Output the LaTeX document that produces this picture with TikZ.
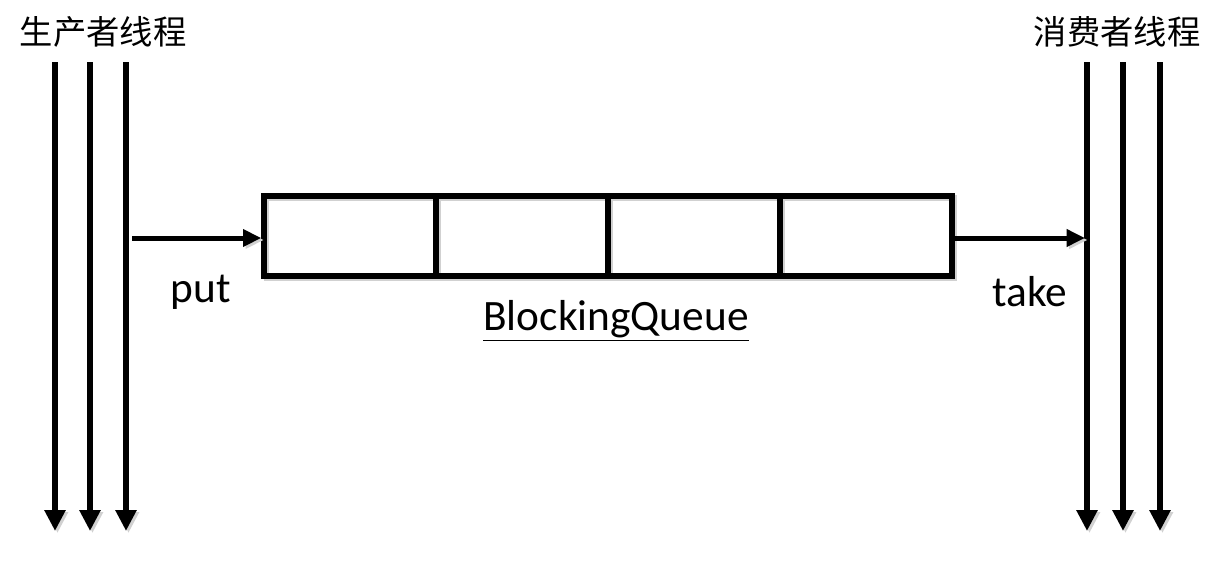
\documentclass[tikz,border=0pt]{standalone}
\usepackage{fontspec}
\setmainfont{Carlito}
\newfontfamily\cjk{Noto Sans CJK SC}
\usetikzlibrary{arrows.meta,chains,positioning}
\tikzset{
  cell/.style={ % one slot of the queue
    draw, rectangle, line width=3.2pt,
    minimum width=103.2pt, minimum height=48pt,
    inner sep=0pt, on chain
  },
  thread/.style={ % a thread line going down
    line width=3.3pt,
    -{Triangle[length=12.5pt,width=12pt]}
  },
  call/.style={ % put / take arrow
    line width=3pt,
    -{Triangle[length=11pt,width=10pt]}
  },
  shade/.style={ % faint shadow behind a line
    preaction={draw=black!18, transform canvas={shift={(1.5pt,-1.2pt)}}}
  },
  lbl/.style={font=\fontsize{26}{30}\selectfont, inner sep=0pt},
  title/.style={font=\cjk\fontsize{20}{24}\selectfont, inner sep=0pt}
}
\begin{document}
\begin{tikzpicture}[x=0.6pt, y=-0.6pt]
  \useasboundingbox (0,0) rectangle (1222,561);

  % queue slots
  \begin{scope}[start chain=going right, node distance=-3.2pt]
    \node[cell, shade] (q1) at (350,236) {};
    \node[cell, shade] (q2) {};
    \node[cell, shade] (q3) {};
    \node[cell, shade] (q4) {};
  \end{scope}
  \node[lbl] (qname) at (616,321) {\underline{BlockingQueue}};

  % thread titles
  \node[title] (prod) at (103,32) {生产者线程};
  \node[title] (cons) at (1117,32) {消费者线程};

  % producer and consumer threads
  \foreach \n/\x in {p1/55, p2/90, p3/126, c1/1087, c2/1123, c3/1160} {
    \coordinate (\n top) at (\x,62);
    \coordinate (\n end) at (\x,531);
    \draw[thread, shade] (\n top) -- (\n end);
  }

  % put and take
  \coordinate (putsrc) at (132,238);
  \coordinate (takedst) at (1085,238);
  \draw[call, shade] (putsrc) -- (putsrc -| q1.west);
  \draw[call, shade] (takedst -| q4.east) -- (takedst);
  \node[lbl] (putlbl) at (201,292) {put};
  \node[lbl] (takelbl) at (1030,292) {take};
\end{tikzpicture}
\end{document}
